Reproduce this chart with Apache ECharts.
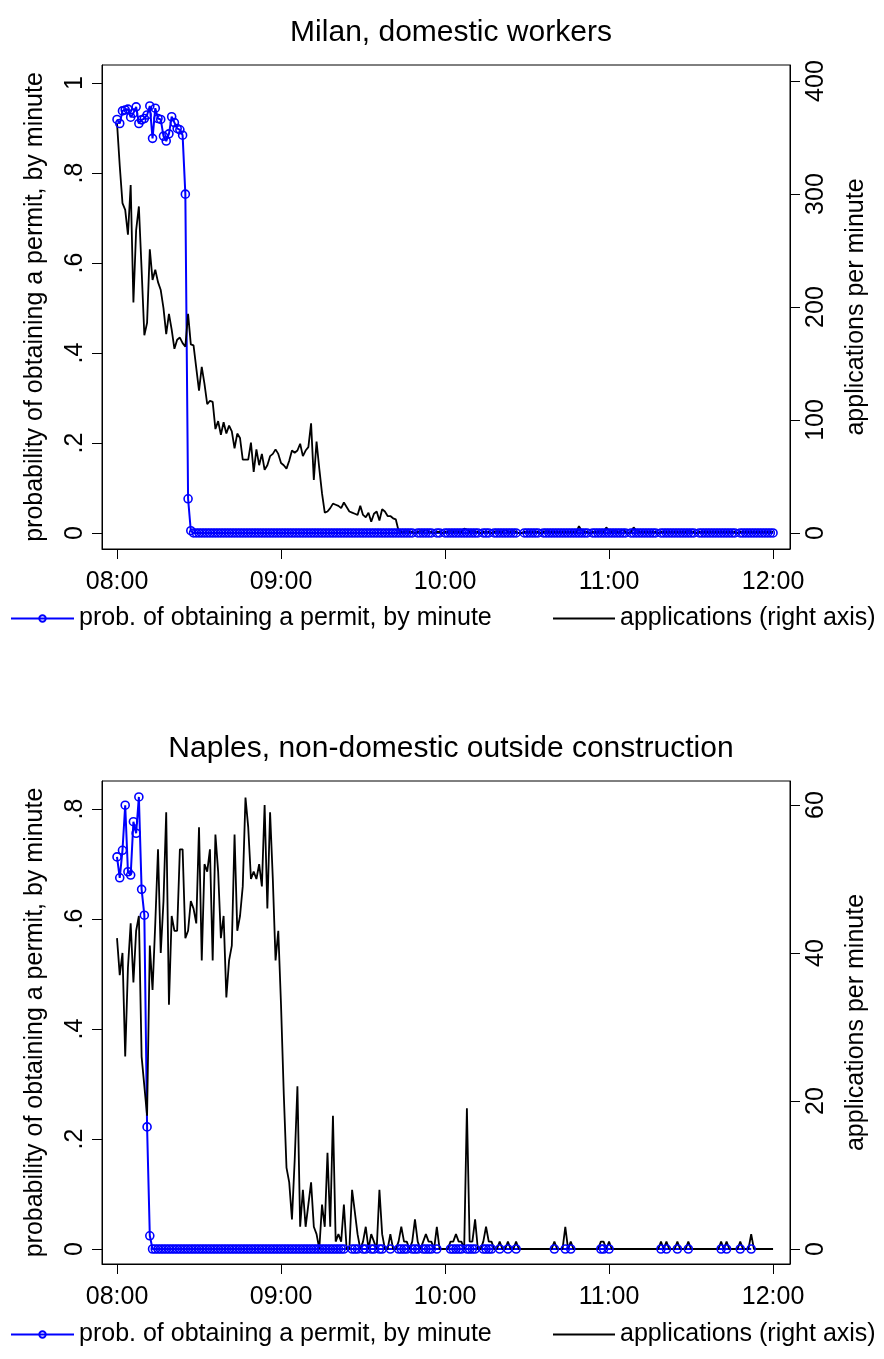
<!DOCTYPE html>
<html>
<head>
<meta charset="utf-8">
<script src="https://cdn.jsdelivr.net/npm/echarts@6/dist/echarts.min.js"></script>
<style>
html,body{margin:0;padding:0;background:#fff;}
#chart{width:884px;height:1359px;}
</style>
</head>
<body>
<div id="chart"></div>
<script>
const _ = null;
// minutes after 08:00 (index = minute)
const titles = ['Milan, domestic workers', 'Naples, non-domestic outside construction'];
const xTickValues = [0, 60, 120, 180, 240];
const xTickLabels = ['08:00', '09:00', '10:00', '11:00', '12:00'];
const probTickValues = [0, 0.2, 0.4, 0.6, 0.8, 1];
const probTickLabels = ['0', '.2', '.4', '.6', '.8', '1'];
const milanAppTicks = [0, 100, 200, 300, 400];
const naplesAppTicks = [0, 20, 40, 60];
const probName = 'probability of obtaining a permit, by minute';
const appsName = 'applications per minute';
const probSeriesName = 'prob. of obtaining a permit, by minute';
const appsSeriesName = 'applications (right axis)';

const milanApps = [
 363,325,292,286,264,308,204,268,289,233,
 175,186,251,224,233,222,215,199,176,194,
 180,163,171,173,168,165,194,167,166,146,
 126,147,132,114,117,116,92,99,87,98,
 88,95,90,75,88,84,65,65,65,80,
 54,74,60,70,56,60,68,70,74,70,
 62,60,57,64,73,71,73,79,68,73,
 76,97,47,81,57,35,18,19,22,26,
 25,24,22,27,23,19,18,17,16,24,
 16,14,18,10,17,19,11,21,19,15,
 15,13,12,2,1,1,2,1,1,0,
 1,2,1,3,1,1,0,1,1,0,
 1,1,2,1,2,1,1,4,3,1,
 2,1,1,0,1,1,1,0,1,2,
 1,1,3,1,1,2,1,0,0,1,
 1,1,1,1,1,0,1,2,1,1,
 1,1,1,1,1,1,1,1,1,6,
 2,1,1,0,1,1,1,2,1,5,
 2,1,2,1,1,3,1,0,1,5,
 2,1,1,1,1,1,1,1,0,1,
 1,1,1,1,1,1,1,1,1,2,
 1,1,0,1,1,1,1,1,1,1,
 1,1,1,1,1,1,1,0,1,1,
 1,1,1,1,1,1,1,1,1,1,
 1
];
const milanProb = [
 .919,.910,.938,.940,.942,.924,.933,.947,.910,.918,
 .921,.929,.949,.877,.944,.921,.919,.882,.871,.887,
 .925,.912,.899,.896,.884,.753,.076,.005,0,0,
 0,0,0,0,0,0,0,0,0,0,
 0,0,0,0,0,0,0,0,0,0,
 0,0,0,0,0,0,0,0,0,0,
 0,0,0,0,0,0,0,0,0,0,
 0,0,0,0,0,0,0,0,0,0,
 0,0,0,0,0,0,0,0,0,0,
 0,0,0,0,0,0,0,0,0,0,
 0,0,0,0,0,0,0,0,0,_,
 0,0,0,0,0,0,_,0,0,_,
 0,0,0,0,0,0,0,0,0,0,
 0,0,0,_,0,0,0,_,0,0,
 0,0,0,0,0,0,0,_,_,0,
 0,0,0,0,0,_,0,0,0,0,
 0,0,0,0,0,0,0,0,0,0,
 0,0,0,_,0,0,0,0,0,0,
 0,0,0,0,0,0,0,_,0,0,
 0,0,0,0,0,0,0,0,_,0,
 0,0,0,0,0,0,0,0,0,0,
 0,0,_,0,0,0,0,0,0,0,
 0,0,0,0,0,0,0,_,0,0,
 0,0,0,0,0,0,0,0,0,0,
 0
];
const naplesApps = [
 42,37,40,26,38,44,36,43,45,26,
 22,18,41,35,44,54,40,47,59,33,
 45,43,43,54,54,42,43,47,46,44,
 57,39,52,51,54,39,56,51,42,45,
 34,39,41,56,43,45,49,61,57,50,
 51,50,52,49,60,46,59,50,39,43,
 33,21,11,9,4,12,22,3,8,3,
 6,9,3,2,0,6,3,13,3,18,
 1,2,1,6,0,0,8,5,2,0,
 1,3,0,2,1,0,8,2,0,0,
 2,0,0,1,3,1,1,0,1,4,
 1,0,1,2,1,1,0,3,0,0,
 0,0,1,1,2,1,1,0,19,1,
 1,4,0,0,1,3,1,1,0,0,
 1,0,0,1,0,0,1,0,0,0,
 0,0,0,0,0,0,0,0,0,0,
 1,0,0,0,3,0,1,0,0,0,
 0,0,0,0,0,0,0,1,1,0,
 1,0,0,0,0,0,0,0,0,0,
 0,0,0,0,0,0,0,0,0,1,
 0,1,0,0,0,1,0,0,0,1,
 0,0,0,0,0,0,0,0,0,0,
 0,1,0,1,0,0,0,0,1,0,
 0,0,2,0,0,0,0,0,0,0,
 0
];
const naplesProb = [
 .713,.675,.725,.807,.686,.680,.777,.756,.822,.654,
 .607,.222,.024,0,0,0,0,0,0,0,
 0,0,0,0,0,0,0,0,0,0,
 0,0,0,0,0,0,0,0,0,0,
 0,0,0,0,0,0,0,0,0,0,
 0,0,0,0,0,0,0,0,0,0,
 0,0,0,0,0,0,0,0,0,0,
 0,0,0,0,0,0,0,0,0,0,
 0,0,0,0,_,_,0,0,0,_,
 0,0,_,0,0,_,0,0,_,_,
 0,_,_,0,0,0,0,_,0,0,
 0,_,0,0,0,0,_,0,_,_,
 _,_,0,0,0,0,0,_,0,0,
 0,0,_,_,0,0,0,0,_,_,
 0,_,_,0,_,_,0,_,_,_,
 _,_,_,_,_,_,_,_,_,_,
 0,_,_,_,0,_,0,_,_,_,
 _,_,_,_,_,_,_,0,0,_,
 0,_,_,_,_,_,_,_,_,_,
 _,_,_,_,_,_,_,_,_,0,
 _,0,_,_,_,0,_,_,_,0,
 _,_,_,_,_,_,_,_,_,_,
 _,0,_,0,_,_,_,_,0,_,
 _,_,0,_,_,_,_,_,_,_,
 _
];

const FONT = '"Liberation Sans", Arial, sans-serif';
const FS = 25;
const toPairs = arr => arr.map((v, i) => [i, v]);
const lbl = (vals, labels) => v => { const k = vals.findIndex(t => Math.abs(t - v) < 1e-9); return k >= 0 ? labels[k] : ''; };

const panels = [
  { top: 65, height: 484, xMin: -5.49, xMax: 246.2, pMin: -0.0356, pMax: 1.04, aMin: -14.16, aMax: 414.2, appTicks: milanAppTicks, prob: milanProb, apps: milanApps, titleTop: 13, legendTop: 606 },
  { top: 781, height: 483, xMin: -5.49, xMax: 246.2, pMin: -0.0273, pMax: 0.851, aMin: -2.03, aMax: 63.24, appTicks: naplesAppTicks, prob: naplesProb, apps: naplesApps, titleTop: 729, legendTop: 1322 }
];

const grid = [], xAxis = [], yAxis = [], series = [], title = [], legend = [];
const legendText = { fontFamily: FONT, fontSize: FS, color: '#000' };
panels.forEach((p, i) => {
  grid.push({ left: 102, top: p.top, width: 688, height: p.height, show: true, borderColor: '#000', borderWidth: 1, backgroundColor: 'transparent', containLabel: false, outerBoundsMode: 'none' });
  title.push({ text: titles[i], left: 446, top: p.titleTop, textAlign: 'center', textStyle: { fontFamily: FONT, fontSize: 30, fontWeight: 'normal', color: '#000' } });
  xAxis.push({
    gridIndex: i, type: 'value', min: p.xMin, max: p.xMax,
    axisLine: { show: true, onZero: false, lineStyle: { color: '#000', width: 1 } },
    axisTick: { show: true, length: 10, customValues: xTickValues, lineStyle: { color: '#000', width: 1 } },
    axisLabel: { customValues: xTickValues, formatter: lbl(xTickValues, xTickLabels), fontFamily: FONT, fontSize: FS, color: '#000', margin: 21 },
    splitLine: { show: false }
  });
  yAxis.push({
    gridIndex: i, type: 'value', position: 'left', min: p.pMin, max: p.pMax,
    axisLine: { show: true, onZero: false, lineStyle: { color: '#000', width: 1 } },
    axisTick: { show: true, length: 10, customValues: probTickValues, lineStyle: { color: '#000', width: 1 } },
    axisLabel: { customValues: probTickValues, formatter: lbl(probTickValues, probTickLabels), rotate: 90, fontFamily: FONT, fontSize: FS, color: '#000', margin: 14 },
    splitLine: { show: false },
    name: probName, nameLocation: 'middle', nameRotate: 90, nameGap: 54,
    nameTextStyle: { fontFamily: FONT, fontSize: FS, color: '#000' }
  });
  yAxis.push({
    gridIndex: i, type: 'value', position: 'right', min: p.aMin, max: p.aMax,
    axisLine: { show: true, onZero: false, lineStyle: { color: '#000', width: 1 } },
    axisTick: { show: true, length: 10, customValues: p.appTicks, lineStyle: { color: '#000', width: 1 } },
    axisLabel: { customValues: p.appTicks, formatter: v => String(Math.round(v)), rotate: 90, fontFamily: FONT, fontSize: FS, color: '#000', margin: 14 },
    splitLine: { show: false },
    name: appsName, nameLocation: 'middle', nameRotate: 90, nameGap: 54,
    nameTextStyle: { fontFamily: FONT, fontSize: FS, color: '#000' }
  });
  series.push({
    name: probSeriesName, type: 'line', xAxisIndex: i, yAxisIndex: i * 2,
    data: toPairs(p.prob), connectNulls: true,
    symbol: 'circle', symbolSize: 8, showSymbol: true, showAllSymbol: true,
    lineStyle: { color: '#0000ff', width: 2 },
    itemStyle: { color: 'rgba(255,255,255,0)', borderColor: '#0000ff', borderWidth: 1.6 },
    emphasis: { disabled: true }, animation: false
  });
  series.push({
    name: appsSeriesName, type: 'line', xAxisIndex: i, yAxisIndex: i * 2 + 1,
    data: toPairs(p.apps), showSymbol: false, symbol: 'none',
    lineStyle: { color: '#000', width: 1.8 },
    itemStyle: { color: '#000' },
    emphasis: { disabled: true }, animation: false
  });
  legend.push({ data: [probSeriesName], left: 10, top: p.legendTop, itemWidth: 63, itemHeight: 8, padding: 0, textStyle: legendText, selectedMode: false });
  legend.push({ data: [appsSeriesName], left: 552, top: p.legendTop, itemWidth: 62, itemHeight: 8, padding: 0, textStyle: legendText, selectedMode: false, itemStyle: { opacity: 0 } });
});

const chart = echarts.init(document.getElementById('chart'), null, { renderer: 'canvas' });
chart.setOption({ animation: false, backgroundColor: '#fff', title, grid, xAxis, yAxis, series, legend });
</script>
</body>
</html>
